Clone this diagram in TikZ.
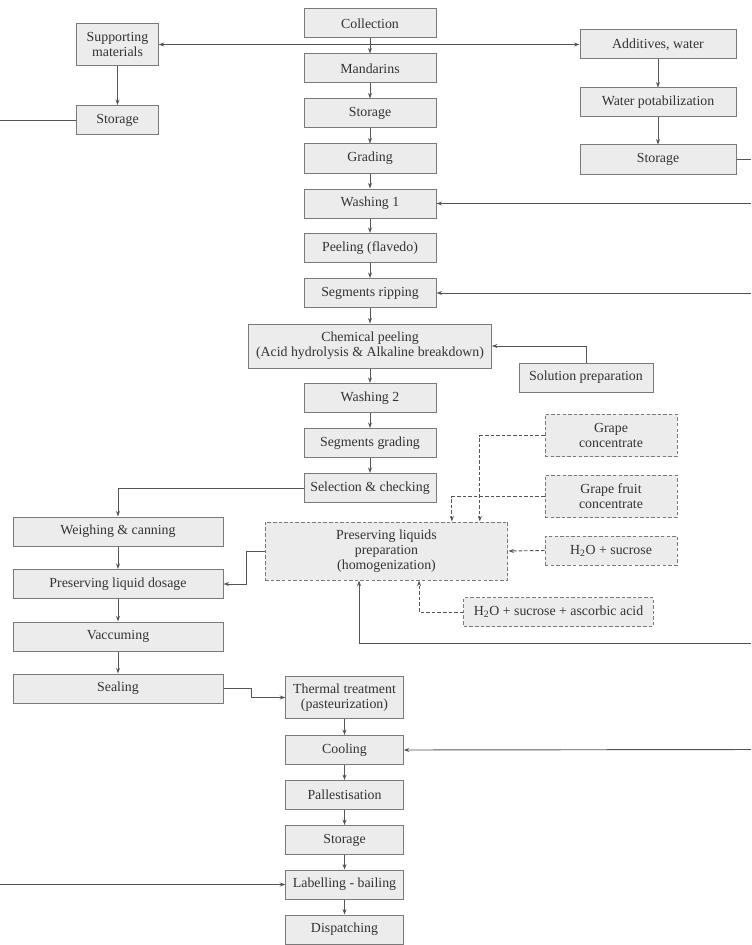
\documentclass[tikz,border=0pt]{standalone}
\usepackage{fontspec}
\setmainfont{Liberation Serif}
\usepackage{tikz}
\usetikzlibrary{arrows.meta,positioning}
\definecolor{FlowInk}{HTML}{333333}
\definecolor{FlowLine}{HTML}{555555}
\definecolor{FlowEdge}{HTML}{7A7A7A}
\definecolor{BoxFill}{HTML}{ECECEC}

\begin{document}
\begin{tikzpicture}[
  x=0.75pt,y=-0.75pt,
  font=\fontsize{10.4}{11.4}\selectfont,
  text=FlowInk,
  >={Stealth[length=4.2pt,width=3pt]},
  stepbox/.style={draw=FlowEdge,line width=0.75pt,fill=BoxFill,align=center,
                  inner sep=1pt,minimum width=99pt,minimum height=21.75pt},
  inputbox/.style={stepbox,dashed,dash pattern=on 2.6pt off 1.6pt},
  flow/.style={->,draw=FlowLine,line width=0.7pt},
  feed/.style={flow,dashed,dash pattern=on 2.6pt off 1.6pt},
]
  \useasboundingbox (0,0) rectangle (751,945);

  % main line
  \node[stepbox] (coll)   at (370,23.5) {Collection};
  \node[stepbox] (mand)   at (370,68.5) {Mandarins};
  \node[stepbox] (stor1)  at (370,113.5) {Storage};
  \node[stepbox] (grad)   at (370,158.5) {Grading};
  \node[stepbox] (wash1)  at (370,203.5) {Washing 1};
  \node[stepbox] (peel)   at (370,248) {Peeling (flavedo)};
  \node[stepbox] (ripp)   at (370,293) {Segments ripping};
  \node[stepbox,minimum width=182pt,minimum height=33pt] (chem) at (370,346)
    {Chemical peeling\\(Acid hydrolysis \& Alkaline breakdown)};
  \node[stepbox,minimum width=100.5pt] (solprep) at (586,377.5) {Solution preparation};
  \node[stepbox] (wash2)  at (370,398) {Washing 2};
  \node[stepbox] (sgrad)  at (370,443) {Segments grading};
  \node[stepbox] (select) at (370,488) {Selection \& checking};

  % canning line
  \node[stepbox,minimum width=157.5pt] (weigh)  at (118,531.5) {Weighing \& canning};
  \node[stepbox,minimum width=157.5pt] (dosage) at (118,584) {Preserving liquid dosage};
  \node[stepbox,minimum width=157.5pt] (vacc)   at (118,636.5) {Vaccuming};
  \node[stepbox,minimum width=157.5pt] (seal)   at (118,688.5) {Sealing};

  % preserving liquids
  \node[inputbox,minimum width=182pt,minimum height=43.5pt] (prep) at (386.5,551)
    {Preserving liquids\\preparation\\(homogenization)};
  \node[inputbox,minimum height=32pt] (grape)  at (611,435.5) {Grape\\concentrate};
  \node[inputbox,minimum height=32pt] (gfruit) at (611,496.5) {Grape fruit\\concentrate};
  \node[inputbox] (water)  at (611,550.5) {H\textsubscript{2}O + sucrose};
  \node[inputbox,minimum width=142pt] (ascorb) at (558.5,612)
    {H\textsubscript{2}O + sucrose + ascorbic acid};

  % final line
  \node[stepbox,minimum width=88pt,minimum height=32pt] (therm) at (344.5,697.5)
    {Thermal treatment\\(pasteurization)};
  \node[stepbox,minimum width=88pt] (cool)  at (344.5,750) {Cooling};
  \node[stepbox,minimum width=88pt] (pall)  at (344.5,795) {Pallestisation};
  \node[stepbox,minimum width=88pt] (stor2) at (344.5,840) {Storage};
  \node[stepbox,minimum width=88pt] (label) at (344.5,884.5) {Labelling - bailing};
  \node[stepbox,minimum width=88pt] (disp)  at (344.5,929.5) {Dispatching};

  % supplies
  \node[stepbox,minimum width=61pt,minimum height=32pt] (support) at (117.5,44.5)
    {Supporting\\materials};
  \node[stepbox,minimum width=61pt] (storL) at (117.5,120) {Storage};
  \node[stepbox,minimum width=117pt] (addit) at (658,44.5) {Additives, water};
  \node[stepbox,minimum width=117pt] (potab) at (658,102.5) {Water potabilization};
  \node[stepbox,minimum width=117pt] (storR) at (658,159.5) {Storage};

  % loose ends at the page border
  \coordinate (split) at (370,44.5);
  \coordinate (lStor) at (0,120);
  \coordinate (lLabel) at (0,884.5);
  \coordinate (rStor) at (751,159.5);
  \coordinate (rWash) at (751,203.5);
  \coordinate (rRipp) at (751,293);
  \coordinate (rPrep) at (751,643.5);
  \coordinate (rCool) at (751,749.5);

  \foreach \a/\b in {coll/mand,mand/stor1,stor1/grad,grad/wash1,wash1/peel,
                     peel/ripp,ripp/chem,chem/wash2,wash2/sgrad,sgrad/select,
                     weigh/dosage,dosage/vacc,vacc/seal,
                     therm/cool,cool/pall,pall/stor2,stor2/label,label/disp,
                     support/storL,addit/potab,potab/storR}
    \draw[flow] (\a) -- (\b);

  \draw[flow] (split) -- (support.east);
  \draw[flow] (split) -- (addit.west);
  \draw[FlowLine,line width=0.7pt] (storL.west) -- (lStor);
  \draw[FlowLine,line width=0.7pt] (storR.east) -- (rStor);
  \draw[flow] (rWash) -- (wash1.east);
  \draw[flow] (rRipp) -- (ripp.east);
  \draw[flow] (solprep.north) |- (chem.east);
  \draw[flow] (select.west) -| (weigh.north);
  \draw[flow] (prep.west) -- ++(-18,0) |- (dosage.east);
  \draw[flow] (rPrep) -| ([xshift=-20.6pt]prep.south);
  \draw[feed] (grape.west) -| ([xshift=70pt]prep.north);
  \draw[feed] (gfruit.west) -| ([xshift=49pt]prep.north);
  \draw[feed] (water.west) -- (prep.east);
  \draw[feed] (ascorb.west) -| ([xshift=24.4pt]prep.south);
  \draw[flow] (seal.east) -- ++(28,0) |- (therm.west);
  \draw[flow] (rCool) -- (cool.east);
  \draw[flow] (lLabel) -- (label.west);
\end{tikzpicture}
\end{document}
